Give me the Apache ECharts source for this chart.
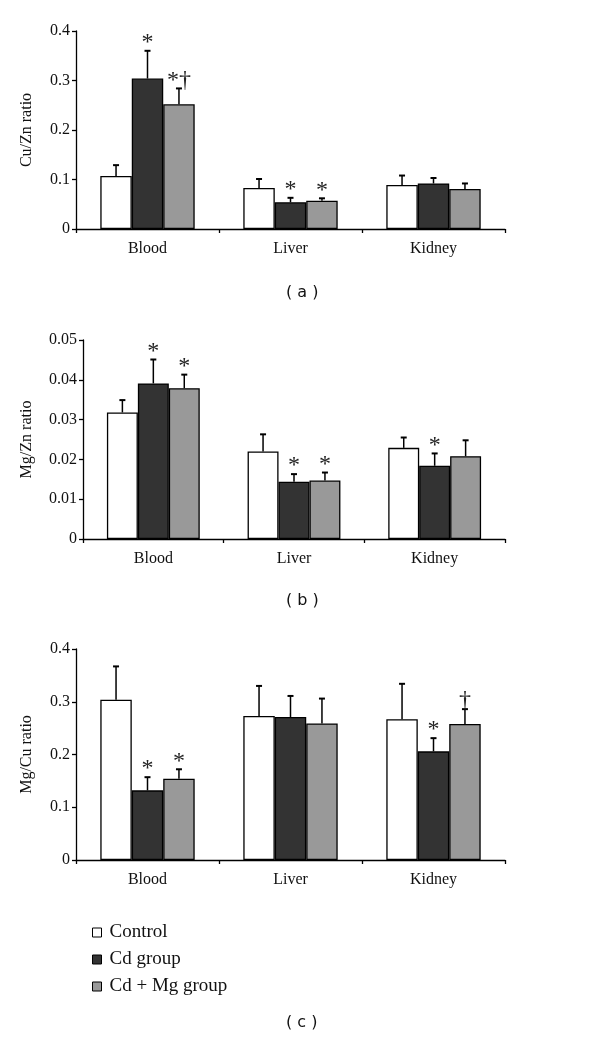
<!DOCTYPE html>
<html>
<head>
<meta charset="utf-8">
<script src="https://cdn.jsdelivr.net/npm/echarts@6/dist/echarts.min.js"></script>
<style>
html,body{margin:0;padding:0;background:#fff;}
#main{width:600px;height:1042px;}
</style>
</head>
<body>
<div id="main"></div>
<script>
// ---------- data ----------
const categories = ['Blood', 'Liver', 'Kidney'];
const groupNames = ['Control', 'Cd group', 'Cd + Mg group'];
const groupColors = ['#ffffff', '#333333', '#999999'];
const panelTitles = ['( a )', '( b )', '( c )'];
const axisNames = ['Cu/Zn ratio', 'Mg/Zn ratio', 'Mg/Cu ratio'];

// Panel (a) Cu/Zn ratio: mean and mean+SD per group (Blood, Liver, Kidney)
const cuZnControl = [0.107, 0.083, 0.089];
const cuZnControlTop = [0.129, 0.101, 0.108];
const cuZnCd = [0.304, 0.054, 0.092];
const cuZnCdTop = [0.360, 0.063, 0.103];
const cuZnCdMg = [0.252, 0.057, 0.081];
const cuZnCdMgTop = [0.284, 0.062, 0.092];
const cuZnMarks = [['', '', ''], ['*', '*', ''], ['*†', '*', '']];

// Panel (b) Mg/Zn ratio
const mgZnControl = [0.0318, 0.0220, 0.0229];
const mgZnControlTop = [0.0349, 0.0263, 0.0255];
const mgZnCd = [0.0391, 0.0144, 0.0184];
const mgZnCdTop = [0.0451, 0.0163, 0.0215];
const mgZnCdMg = [0.0379, 0.0147, 0.0208];
const mgZnCdMgTop = [0.0413, 0.0167, 0.0248];
const mgZnMarks = [['', '', ''], ['*', '*', '*'], ['*', '*', '']];

// Panel (c) Mg/Cu ratio
const mgCuControl = [0.304, 0.273, 0.267];
const mgCuControlTop = [0.367, 0.330, 0.334];
const mgCuCd = [0.132, 0.271, 0.206];
const mgCuCdTop = [0.157, 0.311, 0.231];
const mgCuCdMg = [0.154, 0.259, 0.258];
const mgCuCdMgTop = [0.172, 0.306, 0.286];
const mgCuMarks = [['', '', ''], ['*', '', '*'], ['*', '', '†']];

// y-axis scales
const yMax = [0.4, 0.05, 0.4];
const yInterval = [0.1, 0.01, 0.1];

const panels = [
  {means: [cuZnControl, cuZnCd, cuZnCdMg], tops: [cuZnControlTop, cuZnCdTop, cuZnCdMgTop], marks: cuZnMarks},
  {means: [mgZnControl, mgZnCd, mgZnCdMg], tops: [mgZnControlTop, mgZnCdTop, mgZnCdMgTop], marks: mgZnMarks},
  {means: [mgCuControl, mgCuCd, mgCuCdMg], tops: [mgCuControlTop, mgCuCdTop, mgCuCdMgTop], marks: mgCuMarks}
];

// ---------- layout ----------
const grids = [
  {left: 76, width: 429, top: 31, height: 198},
  {left: 83, width: 422, top: 340, height: 199},
  {left: 76, width: 429, top: 649, height: 211}
];
const titleY = [295, 603, 1025];
const GAP = 0.34;
const SERIF = '"Liberation Serif", "Times New Roman", serif';

const chart = echarts.init(document.getElementById('main'), null, {renderer: 'canvas'});

const option = {
  animation: false,
  backgroundColor: '#ffffff',
  grid: grids.map(g => Object.assign({containLabel: false}, g)),
  xAxis: grids.map((g, i) => ({
    type: 'category', gridIndex: i, data: categories,
    axisLine: {lineStyle: {color: '#000', width: 1.3}},
    axisTick: {show: true, length: 4, lineStyle: {color: '#000', width: 1.3}},
    axisLabel: {color: '#111', fontFamily: SERIF, fontSize: 16, margin: 12}
  })),
  yAxis: grids.map((g, i) => ({
    type: 'value', gridIndex: i, min: 0, max: yMax[i], interval: yInterval[i],
    name: axisNames[i], nameLocation: 'middle', nameRotate: 90, nameGap: i === 1 ? 48 : 41,
    nameTextStyle: {color: '#111', fontFamily: SERIF, fontSize: 16},
    splitLine: {show: false},
    axisLine: {show: true, lineStyle: {color: '#000', width: 1.3}},
    axisTick: {show: true, length: 4, lineStyle: {color: '#000', width: 1.3}},
    axisLabel: {color: '#111', fontFamily: SERIF, fontSize: 16, margin: 6}
  })),
  legend: {
    orient: 'vertical', left: 87, top: 918, itemGap: 8,
    icon: 'rect', itemWidth: 9, itemHeight: 9,
    itemStyle: {borderColor: '#000', borderWidth: 1},
    textStyle: {color: '#111', fontFamily: SERIF, fontSize: 19, padding: [0, 0, 0, 3]},
    data: groupNames
  },
  graphic: panelTitles.map((t, i) => ({
    type: 'text', left: 286, top: titleY[i] - 10,
    style: {text: t, fill: '#111', font: '16px "DejaVu Sans", Verdana, sans-serif'}
  })),
  series: []
};

panels.forEach((p, pi) => {
  groupNames.forEach((name, si) => {
    option.series.push({
      type: 'bar', name: name, xAxisIndex: pi, yAxisIndex: pi,
      data: p.means[si], barGap: '0%', barCategoryGap: (GAP * 100) + '%',
      itemStyle: {color: groupColors[si], borderColor: '#000', borderWidth: 1.3},
      z: 2
    });
  });
  groupNames.forEach((name, si) => {
    option.series.push({
      type: 'custom', name: 'err' + pi + si, xAxisIndex: pi, yAxisIndex: pi, z: 3,
      data: categories.map((c, ci) => [ci, p.means[si][ci], p.tops[si][ci], p.marks[si][ci]]),
      encode: {x: 0, y: [1, 2]},
      renderItem: function (params, api) {
        const ci = api.value(0);
        const base = api.coord([ci, api.value(1)]);
        const top = api.coord([ci, api.value(2)]);
        const band = api.size([1, 0])[0];
        const bw = band * (1 - GAP) / 3;
        const x = base[0] + (si - 1) * bw;
        const mark = p.marks[si][ci];
        const cap = 3;
        const children = [
          {type: 'line', shape: {x1: x, y1: base[1], x2: x, y2: top[1]}, style: {stroke: '#000', lineWidth: 1.5}},
          {type: 'line', shape: {x1: x - cap, y1: top[1], x2: x + cap, y2: top[1]}, style: {stroke: '#000', lineWidth: 2}}
        ];
        if (mark) {
          children.push({type: 'text', x: x, y: top[1] + 4,
            style: {text: mark, fill: '#222', font: '24px ' + SERIF, align: 'center', verticalAlign: 'bottom'}});
        }
        return {type: 'group', children: children};
      }
    });
  });
});

chart.setOption(option);
</script>
</body>
</html>
